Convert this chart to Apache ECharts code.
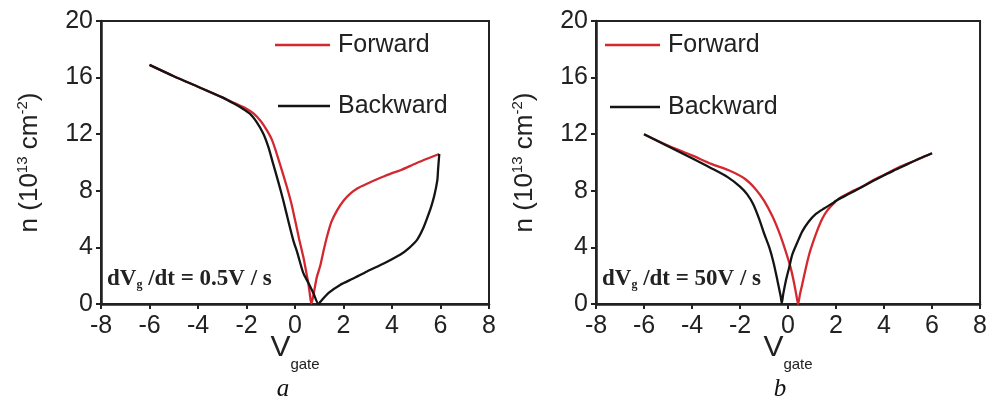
<!DOCTYPE html>
<html>
<head>
<meta charset="utf-8">
<script src="https://cdn.jsdelivr.net/npm/echarts@6/dist/echarts.min.js"></script>
<style>
html,body{margin:0;padding:0;background:#fff;}
#c{width:990px;height:405px;}
</style>
</head>
<body>
<div id="c"></div>
<script>
// ---- data ----
const xTicks = [-8, -6, -4, -2, 0, 2, 4, 6, 8];
const yTicks = [0, 4, 8, 12, 16, 20];
const seriesNames = ['Forward', 'Backward'];
const captions = ['a', 'b'];
const rates = ['0.5', '50'];

// panel a : dVg/dt = 0.5 V/s
const aForward = [
  [-6,16.9],[-5,16.1],[-4,15.35],[-3,14.6],[-2.5,14.2],[-2,13.8],[-1.7,13.45],[-1.4,12.9],
  [-1.17,12.3],[-0.95,11.6],[-0.76,10.65],[-0.55,9.5],[-0.34,8.3],[-0.15,7.1],[0,5.95],
  [0.17,4.6],[0.34,3.35],[0.47,2.2],[0.55,1.45],[0.62,0.6],[0.67,0.05],[0.72,0.3],
  [0.8,1.0],[0.9,1.9],[1.04,2.7],[1.17,3.7],[1.31,4.7],[1.5,5.8],[1.73,6.6],[2.0,7.3],
  [2.28,7.8],[2.6,8.2],[2.97,8.5],[3.5,8.9],[4.0,9.25],[4.35,9.45],[5.0,9.95],[5.5,10.3],[5.95,10.6]
];
const aBackward = [
  [5.95,10.6],[5.9,9.5],[5.87,8.75],[5.75,7.7],[5.62,6.9],[5.52,6.4],[5.3,5.4],[5.04,4.55],
  [4.7,3.95],[4.35,3.5],[3.7,2.9],[2.97,2.3],[2.4,1.8],[1.86,1.35],[1.4,0.8],[1.04,0.15],
  [0.97,0],[0.76,0.76],[0.55,1.5],[0.34,2.2],[0.1,3.6],[-0.07,4.5],[-0.28,5.9],[-0.48,7.3],
  [-0.7,8.7],[-0.9,9.9],[-1.1,11.1],[-1.31,12.05],[-1.6,12.9],[-1.86,13.45],[-2.2,13.85],
  [-2.5,14.15],[-3,14.6],[-4,15.35],[-5,16.1],[-6,16.9]
];
// panel b : dVg/dt = 50 V/s
const bForward = [
  [-6,12.0],[-5,11.2],[-4,10.5],[-3.2,9.9],[-2.4,9.4],[-1.8,8.85],[-1.34,8.1],[-1.0,7.3],
  [-0.65,6.2],[-0.4,5.2],[-0.23,4.4],[0,3.2],[0.12,2.5],[0.25,1.5],[0.35,0.6],[0.42,0],
  [0.5,0.7],[0.6,1.45],[0.75,2.6],[0.88,3.5],[1.05,4.4],[1.22,5.2],[1.42,6.0],[1.63,6.6],
  [1.9,7.1],[2.12,7.45],[2.6,7.9],[3.1,8.3],[3.6,8.8],[4.1,9.2],[4.6,9.65],[5.1,10.0],[5.6,10.35],[6,10.65]
];
const bBackward = [
  [6,10.65],[5.5,10.3],[5,9.9],[4.5,9.5],[4,9.1],[3.5,8.65],[3,8.2],[2.5,7.75],[2.0,7.3],
  [1.84,7.1],[1.5,6.75],[1.15,6.35],[0.85,5.8],[0.6,5.15],[0.4,4.4],[0.18,3.5],[0.05,2.6],
  [-0.09,1.65],[-0.2,0.7],[-0.26,0.05],[-0.3,0.5],[-0.44,1.65],[-0.6,2.9],[-0.78,4.0],
  [-1.0,5.0],[-1.2,6.0],[-1.45,7.05],[-1.7,7.75],[-2.0,8.3],[-2.5,8.95],[-3.2,9.6],[-4,10.3],[-5,11.15],[-6,12.0]
];

// ---- styling ----
const SANS = '"Liberation Sans", Arial, Helvetica, sans-serif';
const SERIF = '"Liberation Serif", "Times New Roman", serif';
const RED = '#d3282f';
const BLACK = '#141414';
const AX = '#222';

const chart = echarts.init(document.getElementById('c'), null, {renderer: 'canvas'});

const grids = [
  {left: 101, top: 21, width: 388, height: 283},
  {left: 596, top: 21, width: 386, height: 283}
];

function xAxis(i) {
  return {
    type: 'value', gridIndex: i, min: xTicks[0], max: xTicks[xTicks.length - 1], interval: 2,
    name: '{v|V}{s|gate}', nameLocation: 'middle', nameGap: 38, nameMoveOverlap: false,
    nameTextStyle: {
      rich: {
        v: {fontFamily: SANS, fontSize: 30, color: AX, lineHeight: 30, verticalAlign: 'bottom', padding: [0, 0, 9, 0]},
        s: {fontFamily: SANS, fontSize: 15, color: AX, lineHeight: 15, verticalAlign: 'bottom'}
      }
    },
    axisLine: {show: true, onZero: false, lineStyle: {color: AX, width: 2.5}},
    axisTick: {show: true, inside: false, length: 5, lineStyle: {color: AX, width: 2}},
    axisLabel: {fontFamily: SANS, fontSize: 25, color: AX, margin: 10},
    splitLine: {show: false}
  };
}
function yAxis(i) {
  return {
    type: 'value', gridIndex: i, min: yTicks[0], max: yTicks[yTicks.length - 1], interval: 4,
    name: '{m|n (10}{p|13}{m| cm}{p|-2}{m|)}', nameLocation: 'middle', nameGap: 58, nameMoveOverlap: false,
    nameTextStyle: {
      rich: {
        m: {fontFamily: SANS, fontSize: 26, color: AX, lineHeight: 30, verticalAlign: 'bottom'},
        p: {fontFamily: SANS, fontSize: 15, color: AX, lineHeight: 15, verticalAlign: 'bottom', padding: [0, 0, 13, 0]}
      }
    },
    axisLine: {show: true, onZero: false, lineStyle: {color: AX, width: 2.5}},
    axisTick: {show: true, inside: false, length: 5, lineStyle: {color: AX, width: 2}},
    axisLabel: {fontFamily: SANS, fontSize: 25, color: AX, margin: 8},
    splitLine: {show: false}
  };
}

function line(name, data, i, color) {
  return {
    type: 'line', name: name, xAxisIndex: i, yAxisIndex: i, data: data,
    symbol: 'none', smooth: 0.25, lineStyle: {color: color, width: 2.3}, itemStyle: {color: color},
    silent: true, animation: false
  };
}

function legend(name, left, top, w) {
  return {
    data: [name], left: left, top: top, orient: 'vertical', selectedMode: false,
    icon: 'rect', itemWidth: w, itemHeight: 2.5, padding: 0,
    textStyle: {fontFamily: SANS, fontSize: 25, color: AX, lineHeight: 28, padding: [0, 0, 0, 3]}
  };
}

function annot(x, rate) {
  return {
    type: 'text', left: x, top: 268,
    style: {
      text: '{a|dV}{g|g}{a| /dt = ' + rate + 'V / s}',
      rich: {
        a: {fontFamily: SERIF, fontWeight: 'bold', fontSize: 23, fill: AX, lineHeight: 26, verticalAlign: 'bottom'},
        g: {fontFamily: SERIF, fontWeight: 'bold', fontSize: 12, fill: AX, lineHeight: 12, verticalAlign: 'bottom'}
      }
    }
  };
}
function caption(x, t) {
  return {
    type: 'text', x: x, y: 389,
    style: {text: t, fontFamily: SERIF, fontStyle: 'italic', fontSize: 25, fill: '#111', align: 'center', verticalAlign: 'middle'}
  };
}

chart.setOption({
  animation: false,
  grid: grids.map(g => Object.assign({show: true, borderColor: AX, borderWidth: 2, backgroundColor: 'transparent'}, g)),
  xAxis: [xAxis(0), xAxis(1)],
  yAxis: [yAxis(0), yAxis(1)],
  legend: [
    legend(seriesNames[0], 275, 31, 55),
    legend(seriesNames[1], 278, 92, 52),
    legend(seriesNames[0], 605, 31, 55),
    legend(seriesNames[1], 610, 93, 50)
  ],
  series: [
    line(seriesNames[0], aForward, 0, RED),
    line(seriesNames[1], aBackward, 0, BLACK),
    line(seriesNames[0], bForward, 1, RED),
    line(seriesNames[1], bBackward, 1, BLACK)
  ],
  graphic: [
    annot(107, rates[0]), annot(602, rates[1]),
    caption(283, captions[0]), caption(780, captions[1])
  ]
});
</script>
</body>
</html>
